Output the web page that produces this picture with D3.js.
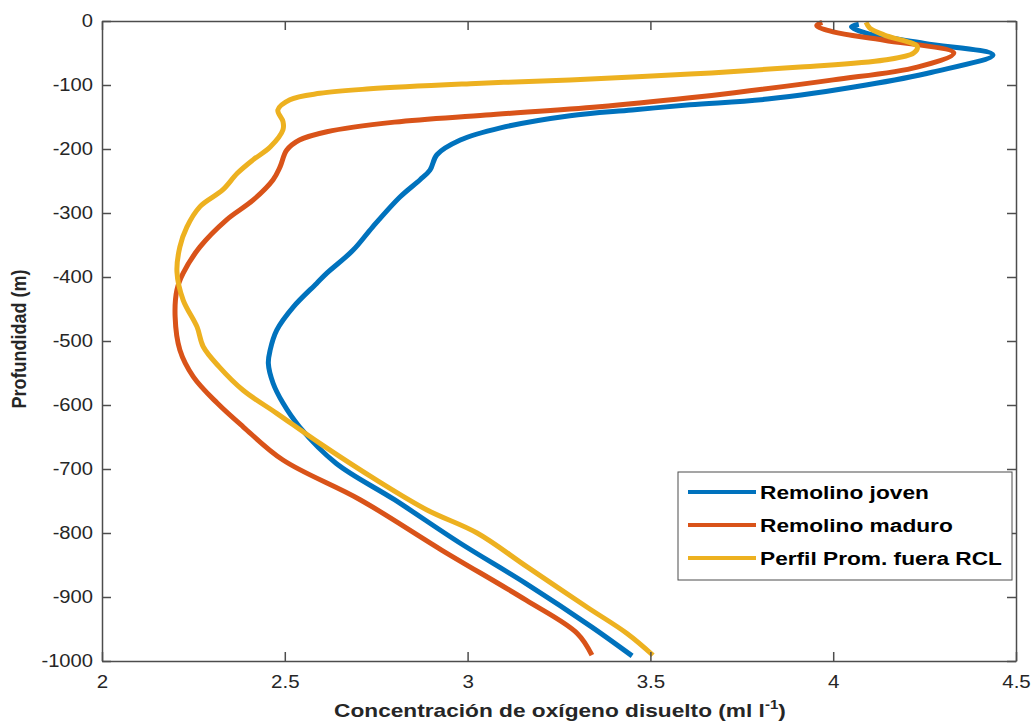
<!DOCTYPE html>
<html>
<head>
<meta charset="utf-8">
<script src="https://cdn.jsdelivr.net/npm/d3@7"></script>
<style>
  html, body { margin: 0; padding: 0; background: #fff; }
  svg { display: block; font-family: "Liberation Sans", Arial, sans-serif; }
</style>
</head>
<body>
<svg id="chart" width="1034" height="722"></svg>
<script>
// ---- data (oxygen in ml/l, depth in m) ----
const seriesNames = ["Remolino joven", "Remolino maduro", "Perfil Prom. fuera RCL"];
const seriesColors = ["#0072BD", "#D95319", "#EDB120"];

const joven = [
  [4.07,-5],[4.05,-9],[4.09,-19],[4.25,-35],[4.437,-53],[4.27,-80],[4.09,-100],[3.82,-122],
  [3.608,-131],[3.45,-139],[3.28,-148],[3.09,-167],[2.98,-186],[2.916,-209],[2.897,-233],[2.87,-248],[2.815,-275],
  [2.74,-322],[2.687,-358],[2.615,-394],[2.587,-410],[2.523,-447],[2.478,-483],[2.46,-514],
  [2.455,-535],[2.468,-566],[2.495,-597],[2.54,-634],[2.64,-691],[2.80,-748],[2.98,-816],
  [3.16,-879],[3.34,-947],[3.45,-992]
];
const maduro = [
  [3.97,-2],[3.955,-7],[4.0,-17],[4.14,-30],[4.33,-50],[4.23,-72],[4.0,-92],[3.73,-112],
  [3.608,-120],[3.36,-134],[3.05,-147],[2.80,-158],[2.615,-173],[2.54,-186],[2.505,-202],[2.487,-228],
  [2.468,-248],[2.413,-280],[2.34,-311],[2.268,-353],[2.222,-394],[2.205,-420],[2.2,-462],
  [2.213,-514],[2.25,-556],[2.315,-597],[2.386,-634],[2.495,-686],[2.706,-748],[2.93,-827],
  [3.16,-905],[3.30,-957],[3.34,-991]
];
const perfil = [
  [4.09,-2],[4.10,-11],[4.14,-22],[4.23,-40],[4.22,-50],[4.14,-61],[3.91,-72],[3.608,-83],
  [3.28,-92],[3.007,-98],[2.733,-106],[2.596,-113],[2.514,-123],[2.481,-139],[2.495,-157],[2.495,-170],
  [2.46,-197],[2.413,-217],[2.37,-238],[2.33,-264],[2.268,-290],[2.232,-322],[2.213,-353],
  [2.205,-392],[2.222,-436],[2.26,-478],[2.277,-509],[2.32,-540],[2.386,-577],[2.478,-613],
  [2.596,-660],[2.75,-717],[2.889,-764],[3.026,-800],[3.163,-853],[3.327,-916],[3.436,-957],
  [3.507,-991]
];
const allSeries = [joven, maduro, perfil];

const xTicks = [2, 2.5, 3, 3.5, 4, 4.5];
const yTicks = [0, -100, -200, -300, -400, -500, -600, -700, -800, -900, -1000];
const xLabel = "Concentración de oxígeno disuelto (ml l";
const yLabel = "Profundidad (m)";

// ---- layout ----
const L = 102, R = 1016, T = 21, B = 661;
const svg = d3.select("#chart");
const x = d3.scaleLinear().domain([2, 4.5]).range([L, R]);
const y = d3.scaleLinear().domain([-1000, 0]).range([B, T]);
const axisColor = "#4d4d4d";
const textColor = "#262626";
const tickLen = 9;

function stretch(sel, f) {
  sel.each(function () {
    const len = this.getComputedTextLength();
    if (len > 0) d3.select(this).attr("textLength", len * f).attr("lengthAdjust", "spacingAndGlyphs");
  });
}

// series
const line = d3.line().x(d => x(d[0])).y(d => y(d[1])).curve(d3.curveCatmullRom.alpha(0.5));
allSeries.forEach((s, i) => {
  svg.append("path").datum(s)
    .attr("d", line)
    .attr("fill", "none")
    .attr("stroke", seriesColors[i])
    .attr("stroke-width", 5)
    .attr("stroke-linejoin", "round");
});

// axes (ticks inward, mirrored)
function styleAxis(g) {
  g.select(".domain").attr("stroke", axisColor).attr("stroke-width", 1.5);
  g.selectAll(".tick line").attr("stroke", axisColor).attr("stroke-width", 1.5);
  g.selectAll(".tick text").attr("fill", textColor).style("font-size", "18px")
    .style("font-family", "'Liberation Sans', Arial, sans-serif");
}
const fmt = d => String(d);
const xb = svg.append("g").attr("transform", `translate(0,${B})`)
  .call(d3.axisBottom(x).tickValues(xTicks).tickFormat(fmt).tickSizeInner(-tickLen).tickSizeOuter(0).tickPadding(14));
styleAxis(xb);
const xt = svg.append("g").attr("transform", `translate(0,${T})`)
  .call(d3.axisTop(x).tickValues(xTicks).tickFormat("").tickSizeInner(-tickLen).tickSizeOuter(0));
styleAxis(xt);
const yl = svg.append("g").attr("transform", `translate(${L},0)`)
  .call(d3.axisLeft(y).tickValues(yTicks).tickFormat(fmt).tickSizeInner(-tickLen).tickSizeOuter(0).tickPadding(9));
styleAxis(yl);
const yr = svg.append("g").attr("transform", `translate(${R},0)`)
  .call(d3.axisRight(y).tickValues(yTicks).tickFormat("").tickSizeInner(-tickLen).tickSizeOuter(0));
styleAxis(yr);
stretch(xb.selectAll(".tick text"), 1.14);
stretch(yl.selectAll(".tick text"), 1.12);

// axis labels
const xlG = svg.append("g").attr("transform", `translate(${(L + R) / 2 + 1},717) scale(1.26,1)`);
const xl = xlG.append("text")
  .attr("x", 0).attr("y", 0)
  .attr("text-anchor", "middle")
  .attr("fill", textColor)
  .style("font-size", "18px").style("font-weight", "bold");
xl.append("tspan").text(xLabel);
xl.append("tspan").attr("dy", -8).style("font-size", "12px").text("-1");
xl.append("tspan").attr("dy", 8).text(")");

svg.append("g").attr("transform", `translate(26,${(T + B) / 2 - 2}) rotate(-90) scale(1,1.15)`)
  .append("text")
  .attr("text-anchor", "middle")
  .attr("fill", textColor)
  .style("font-size", "18px").style("font-weight", "bold")
  .text(yLabel);

// legend
const lg = svg.append("g");
lg.append("rect").attr("x", 678).attr("y", 472).attr("width", 334).attr("height", 108)
  .attr("fill", "#fff").attr("stroke", axisColor).attr("stroke-width", 1);
seriesNames.forEach((n, i) => {
  const yy = 492 + i * 33;
  lg.append("line").attr("x1", 688).attr("x2", 756).attr("y1", yy).attr("y2", yy)
    .attr("stroke", seriesColors[i]).attr("stroke-width", 4);
  const t = lg.append("text").attr("x", 760).attr("y", yy + 7)
    .attr("fill", "#000").style("font-size", "18px").style("font-weight", "bold")
    .text(n);
  stretch(t, 1.26);
});
</script>
</body>
</html>
